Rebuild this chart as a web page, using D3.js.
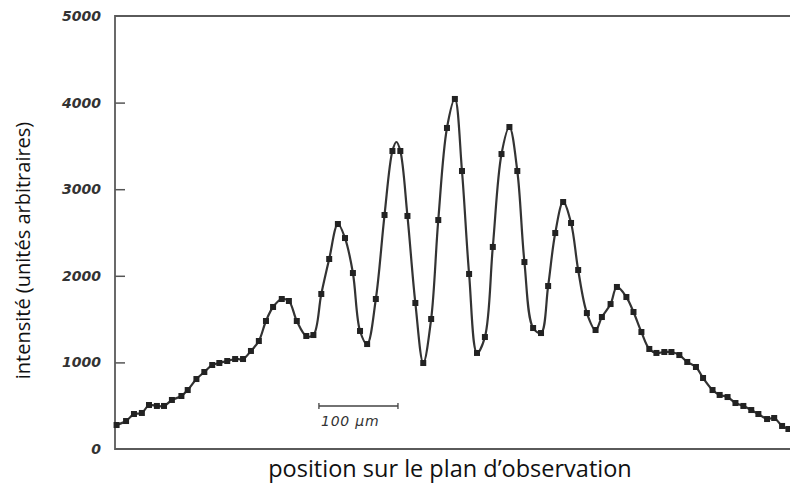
<!DOCTYPE html>
<html>
<head>
<meta charset="utf-8">
<script src="https://cdn.jsdelivr.net/npm/d3@7"></script>
<style>
  body { margin: 0; background: #fff; }
</style>
</head>
<body>
<div id="chart"></div>
<script>
// positions des points de mesure (µm depuis le bord gauche)
let positions = [
  2, 14, 24, 34, 43, 53, 62, 72, 84, 92, 103, 113, 123, 132, 142, 152, 162, 172, 182, 191,
  200, 211, 220, 230, 242, 251, 261, 271, 282, 291, 301, 310, 319, 330, 341, 351, 361, 370, 380, 390,
  400, 409, 420, 430, 439, 448, 458, 468, 478, 489, 499, 509, 518, 529, 539, 548, 557, 567, 577, 586,
  597, 608, 616, 627, 635, 647, 656, 666, 676, 685, 695, 704, 714, 724, 735, 744, 756, 765, 775, 785,
  795, 805, 814, 825, 834, 844, 852
];
// intensité mesurée (unités arbitraires)
let intensites = [
  277, 323, 404, 416, 508, 497, 497, 566, 612, 681, 808, 889, 970, 993, 1016, 1039, 1039, 1132, 1247, 1478,
  1640, 1732, 1709, 1478, 1305, 1316, 1790, 2194, 2598, 2436, 2032, 1363, 1212, 1732, 2702, 3441, 3441, 2691, 1686, 993,
  1501, 2644, 3707, 4042, 3210, 2021, 1109, 1293, 2333, 3406, 3718, 3210, 2159, 1397, 1339, 1882, 2494, 2852, 2610, 2067,
  1570, 1374, 1524, 1674, 1871, 1755, 1582, 1351, 1155, 1109, 1120, 1120, 1085, 1005, 947, 820, 681, 624, 600, 531,
  497, 450, 404, 346, 358, 266, 231
];
// sommet de la courbe théorique qui passe au-dessus des points
let sommetsCourbe = [
  { x: 356, y: 3545 }
];
let graduations = [0, 1000, 2000, 3000, 4000, 5000];
let barreEchelle = { debut: 258, longueur: 100, texte: "100 µm" };

let width = 790, height = 484;
let margin = { left: 115, right: 0, top: 16, bottom: 35 };

let svg = d3.select("#chart")
  .append("svg")
    .attr("width", width)
    .attr("height", height)
    .attr("font-family", "'Open Sans', sans-serif")
;

let x = d3.scaleLinear()
  .domain([0, 854])
  .range([margin.left, width - margin.right]);

let y = d3.scaleLinear()
  .domain([0, 5000])
  .range([height - margin.bottom, margin.top]);

let points = positions.map((p, i) => ({ x: p, y: intensites[i] }));
let courbe = points.concat(sommetsCourbe).sort((a, b) => a.x - b.x);

// axe vertical avec petites graduations vers l'intérieur
let axeY = svg.append("g")
  .attr("transform", "translate(" + margin.left + ",0)")
  .call(d3.axisLeft(y).tickValues(graduations).tickSize(-10).tickPadding(14).tickFormat(d3.format("d")));

axeY.select(".domain").remove();
axeY.selectAll(".tick line")
  .attr("stroke", "#555")
  .attr("stroke-width", 1.5)
  .filter(d => d === 0 || d === 5000).remove();
axeY.selectAll(".tick text")
  .attr("fill", "#333")
  .attr("font-family", "'DejaVu Sans', sans-serif")
  .attr("font-style", "italic")
  .attr("font-weight", "bold")
  .attr("font-size", 14);

// cadre : gauche, haut, bas
svg.append("path")
  .attr("d", "M" + x(854) + "," + y(5000) + "H" + x(0) + "V" + y(0) + "H" + x(854))
  .attr("fill", "none")
  .attr("stroke", "#5a5a5a")
  .attr("stroke-width", 1.8);

// courbe lissée
let ligne = d3.line()
  .x(d => x(d.x))
  .y(d => y(d.y))
  .curve(d3.curveCatmullRom.alpha(0.5));

svg.append("path")
  .datum(courbe)
  .attr("d", ligne)
  .attr("fill", "none")
  .attr("stroke", "#333")
  .attr("stroke-width", 2.2);

// points de mesure
svg.selectAll(".point").data(points).enter()
  .append("rect")
    .attr("class", "point")
    .attr("x", d => x(d.x) - 3)
    .attr("y", d => y(d.y) - 3)
    .attr("width", 6)
    .attr("height", 6)
    .attr("fill", "#222")
;

// barre d'échelle
let yb = 406;
let x1 = x(barreEchelle.debut), x2 = x(barreEchelle.debut + barreEchelle.longueur);
svg.append("path")
  .attr("d", "M" + x1 + "," + (yb - 3) + "V" + (yb + 3) + "M" + x1 + "," + yb + "H" + x2 + "M" + x2 + "," + (yb - 3) + "V" + (yb + 3))
  .attr("fill", "none")
  .attr("stroke", "#444")
  .attr("stroke-width", 1.3);

svg.append("text")
  .attr("x", x1 + 2)
  .attr("y", yb + 20)
  .attr("font-family", "'DejaVu Sans', sans-serif")
  .attr("font-style", "italic")
  .attr("font-size", 14)
  .attr("letter-spacing", 0.8)
  .attr("fill", "#333")
  .text(barreEchelle.texte);

// titres des axes
svg.append("text")
  .attr("transform", "translate(30," + ((y(0) + y(5000)) / 2 + 18) + ") rotate(-90)")
  .attr("text-anchor", "middle")
  .attr("font-size", 20)
  .attr("fill", "#111")
  .text("intensité (unités arbitraires)");

svg.append("text")
  .attr("x", 450)
  .attr("y", 477)
  .attr("text-anchor", "middle")
  .attr("font-size", 23.5)
  .attr("fill", "#111")
  .text("position sur le plan d’observation");
</script>
</body>
</html>
